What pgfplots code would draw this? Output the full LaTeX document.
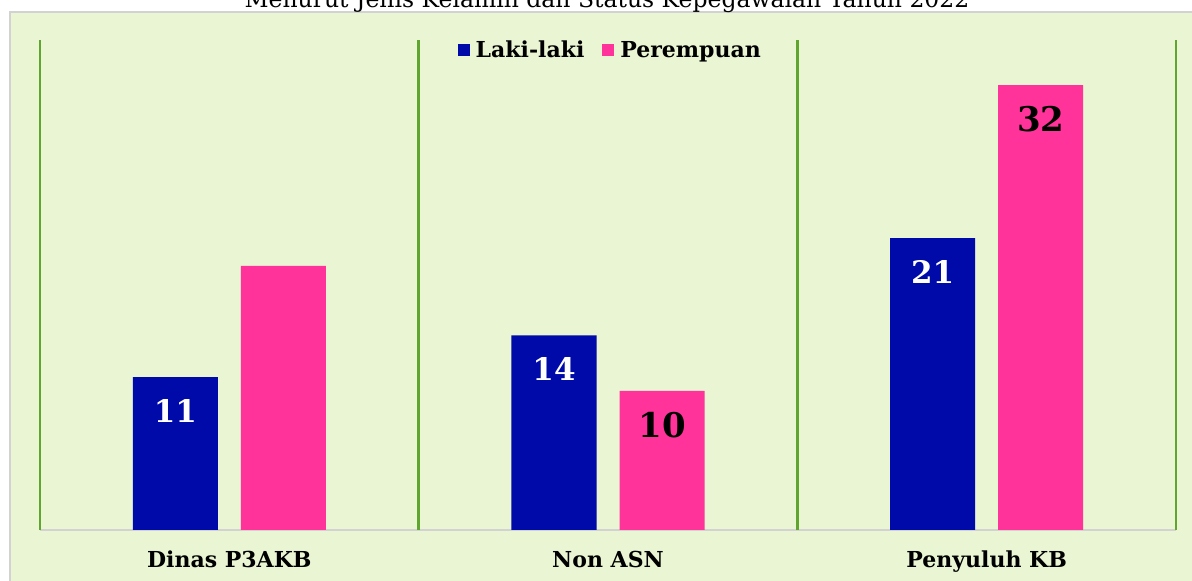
\documentclass[border=0pt]{standalone}
\usepackage{fontspec}
\setmainfont{DejaVu Serif}
\usepackage{pgfplots}
\pgfplotsset{compat=1.18}
\definecolor{bg}{RGB}{234,245,211}
\definecolor{lk}{RGB}{0,10,168}
\definecolor{pr}{RGB}{255,51,153}
\definecolor{gl}{RGB}{96,165,48}
\begin{document}
\begin{tikzpicture}[x=1pt,y=1pt]
\useasboundingbox (0,0) rectangle (1192,581);
\clip (0,0) rectangle (1192,581);
\fill[white] (0,0) rectangle (1192,581);
\filldraw[fill=bg, draw=gray!35, line width=1.2pt] (10,-5) rectangle (1200,569);
\node[anchor=base, font=\fontsize{23.5}{25}\selectfont] at (607,573) {Menurut Jenis Kelamin dan Status Kepegawaian Tahun 2022};
\begin{axis}[
  at={(40pt,51pt)}, anchor=south west,
  width=1136pt, height=490pt, scale only axis,
  xmin=-0.5, xmax=2.5, ymin=0, ymax=35.25,
  ybar=23pt, bar width=85pt,
  axis y line=none, axis x line*=bottom,
  x axis line style={draw=gray!35, line width=1.2pt, -},
  xtick={0,1,2}, xticklabels={Dinas P3AKB, Non ASN, Penyuluh KB},
  major tick length=0pt,
  xticklabel style={font=\fontsize{22}{24}\selectfont\bfseries, anchor=base, yshift=-38pt},
  extra x ticks={-0.5,0.5,1.5,2.5}, extra x tick labels={},
  extra x tick style={grid=major, major grid style={draw=gl, line width=2.4pt}},
  legend style={at={(0.502,0.98)}, anchor=center, draw=none, fill=none,
    font=\fontsize{22}{24}\selectfont\bfseries,
    /tikz/every odd column/.append style={column sep=4pt},
    /tikz/every even column/.append style={column sep=16pt}},
  legend columns=2,
  legend image code/.code={\fill[#1] (0pt,-6pt) rectangle (12pt,6pt);},
  point meta=explicit symbolic,
  nodes near coords,
  every node near coord/.append style={anchor=center, yshift=-34pt},
]
\addplot[fill=lk, draw=none, nodes near coords style={text=white, font=\fontsize{31}{33}\selectfont\bfseries}]
  coordinates {(0,11) [11] (1,14) [14] (2,21) [21]};
\addplot[fill=pr, draw=none, nodes near coords style={text=black, font=\fontsize{34}{36}\selectfont\bfseries}]
  coordinates {(0,19) [{}] (1,10) [10] (2,32) [32]};
\legend{Laki-laki, Perempuan}
\end{axis}
\end{tikzpicture}
\end{document}
